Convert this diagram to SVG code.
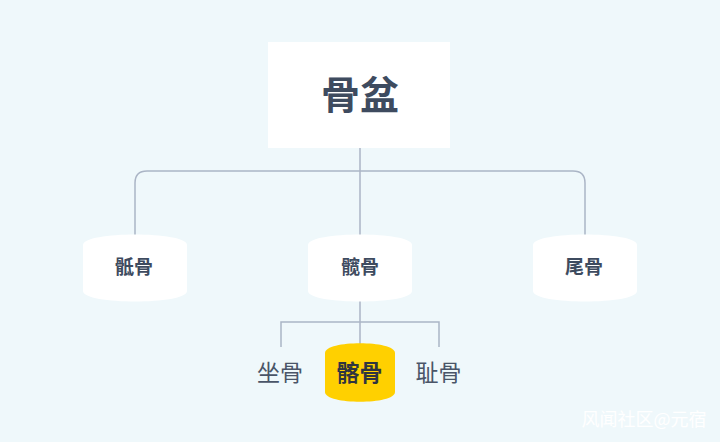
<svg xmlns="http://www.w3.org/2000/svg" width="720" height="442" viewBox="0 0 720 442">
<style>
.t{font-family:"Noto Sans CJK SC","Noto Sans",sans-serif;text-anchor:middle}
.b{font-weight:bold;fill:#3e4b5f}
.n{fill:#ffffff}
.c{fill:none;stroke:#abb5c6;stroke-width:1.5}
</style>
<rect width="720" height="442" fill="#eff8fb"/>
<g id="connectors">
<path class="c" d="M360,148 V236"/>
<path class="c" d="M135,235 V183 Q135,171 147,171 H573 Q585,171 585,183 V235"/>
<path class="c" d="M360,301 V344"/>
<path class="c" d="M281,347 V322 H439 V347"/>
</g>
<g id="root">
<rect x="268" y="42" width="182" height="106" fill="#ffffff"/>
<text class="t b" x="360" y="109" font-size="39">骨盆</text>
</g>
<g id="n1">
<path class="n" d="M83,245 C83,231 187,231 187,245 L187,291 C187,305 83,305 83,291 Z"/>
<text class="t b" x="134" y="274" font-size="19">骶骨</text>
</g>
<g id="n2">
<path class="n" d="M308,245 C308,231 412,231 412,245 L412,291 C412,305 308,305 308,291 Z"/>
<text class="t b" x="360" y="274" font-size="19">髋骨</text>
</g>
<g id="n3">
<path class="n" d="M533,245 C533,231 637,231 637,245 L637,291 C637,305 533,305 533,291 Z"/>
<text class="t b" x="584" y="274" font-size="19">尾骨</text>
</g>
<g id="n4">
<text class="t" x="280" y="381" font-size="23" fill="#4a5568">坐骨</text>
</g>
<g id="n5">
<path d="M325,353 C325,340 395,340 395,353 L395,392 C395,405 325,405 325,392 Z" fill="#ffd000"/>
<text class="t" x="359.5" y="381" font-size="23" font-weight="bold" fill="#2f3440">髂骨</text>
</g>
<g id="n6">
<text class="t" x="438.5" y="381" font-size="23" fill="#4a5568">耻骨</text>
</g>
<text class="t" x="644" y="426" font-size="18" fill="#ffffff">风闻社区@元宿</text>
</svg>
